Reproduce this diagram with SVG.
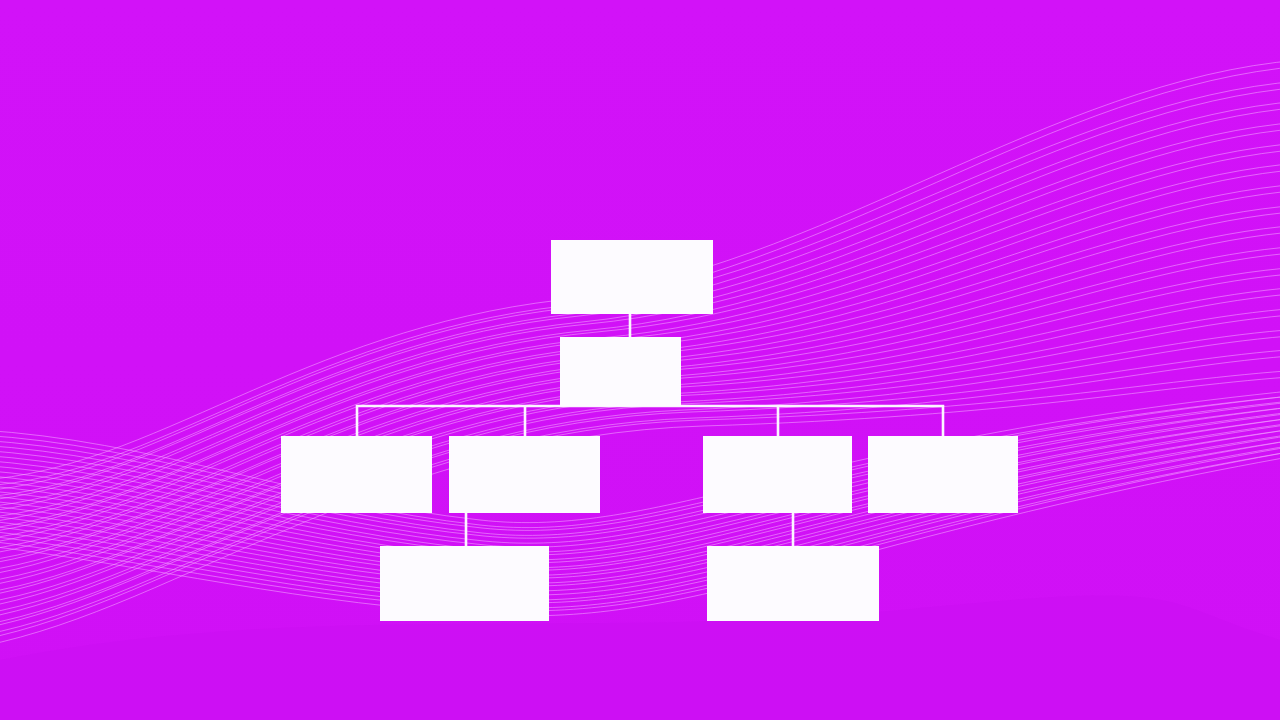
<svg xmlns="http://www.w3.org/2000/svg" xmlns:xlink="http://www.w3.org/1999/xlink" width="1280" height="720" viewBox="0 0 1280 720">
<defs>
<style>
.wave{fill:none;stroke:#F6ACFF;stroke-width:0.9;stroke-opacity:0.6}
.node{fill:#FDFBFF}
.conn{fill:none;stroke:#FBF4FF;stroke-width:2.6}
</style>
<linearGradient id="g" x1="0" y1="0" x2="0" y2="1">
<stop offset="0" stop-color="#D212F8"/>
<stop offset="1" stop-color="#D010F6"/>
</linearGradient>
</defs>
<rect width="1280" height="720" fill="url(#g)"/>
<path d="M0,660 C300,600 600,640 900,610 S1150,600 1280,640 L1280,720 L0,720 Z" fill="#C80CF0" opacity="0.3"/>
<g id="waves" class="wave">
<g id="famA">
<path d="M-20,480 C150,470 300,330 560,300 S1050,80 1300,60"/>
<path d="M-20,491 C152,479 305,337 569,308 S1057,100 1300,81"/>
<path d="M-20,501 C154,487 311,343 579,316 S1063,120 1300,101"/>
<path d="M-20,512 C156,496 316,350 588,324 S1070,140 1300,122"/>
<path d="M-20,523 C158,505 321,357 597,332 S1077,160 1300,143"/>
<path d="M-20,533 C160,513 327,363 607,340 S1083,180 1300,163"/>
<path d="M-20,544 C162,522 332,370 616,348 S1090,200 1300,184"/>
<path d="M-20,555 C164,531 337,377 625,356 S1097,220 1300,205"/>
<path d="M-20,565 C166,539 343,383 635,364 S1103,240 1300,225"/>
<path d="M-20,576 C168,548 348,390 644,372 S1110,260 1300,246"/>
<path d="M-20,587 C170,557 353,397 653,380 S1117,280 1300,267"/>
<path d="M-20,597 C172,565 359,403 663,388 S1123,300 1300,287"/>
<path d="M-20,608 C174,574 364,410 672,396 S1130,320 1300,308"/>
<path d="M-20,619 C176,583 369,417 681,404 S1137,340 1300,329"/>
<path d="M-20,629 C178,591 375,423 691,412 S1143,360 1300,349"/>
<path d="M-20,640 C180,600 380,430 700,420 S1150,380 1300,370"/>
</g>
<use xlink:href="#famA" transform="translate(3,6)"/>
<g id="famB">
<path d="M-20,430 C150,440 300,500 480,520 S800,440 1300,390"/>
<path d="M-20,440 C150,451 300,509 482,528 S805,448 1300,395"/>
<path d="M-20,450 C150,462 300,518 484,536 S809,456 1300,401"/>
<path d="M-20,460 C150,473 300,527 485,545 S814,465 1300,406"/>
<path d="M-20,470 C150,484 300,536 487,553 S818,473 1300,412"/>
<path d="M-20,480 C150,495 300,545 489,561 S823,481 1300,417"/>
<path d="M-20,490 C150,505 300,555 491,569 S827,489 1300,423"/>
<path d="M-20,500 C150,516 300,564 493,577 S832,497 1300,428"/>
<path d="M-20,510 C150,527 300,573 495,585 S836,505 1300,434"/>
<path d="M-20,520 C150,538 300,582 496,594 S841,514 1300,439"/>
<path d="M-20,530 C150,549 300,591 498,602 S845,522 1300,445"/>
<path d="M-20,540 C150,560 300,600 500,610 S850,530 1300,450"/>
</g>
<use xlink:href="#famB" transform="translate(0,5)"/>
</g>
<g id="connectors">
<line class="conn" x1="630" y1="314" x2="630" y2="337"/>
<polyline class="conn" points="357,436 357,406 943,406 943,436"/>
<line class="conn" x1="525" y1="406" x2="525" y2="436"/>
<line class="conn" x1="778" y1="406" x2="778" y2="436"/>
<line class="conn" x1="466" y1="513" x2="466" y2="546"/>
<line class="conn" x1="793" y1="513" x2="793" y2="546"/>
</g>
<g id="node-root"><rect class="node" x="551" y="240" width="162" height="74"/></g>
<g id="node-second"><rect class="node" x="560" y="337" width="121" height="69"/></g>
<g id="node-a"><rect class="node" x="281" y="436" width="151" height="77"/></g>
<g id="node-b"><rect class="node" x="449" y="436" width="151" height="77"/></g>
<g id="node-c"><rect class="node" x="703" y="436" width="149" height="77"/></g>
<g id="node-d"><rect class="node" x="868" y="436" width="150" height="77"/></g>
<g id="node-b1"><rect class="node" x="380" y="546" width="169" height="75"/></g>
<g id="node-c1"><rect class="node" x="707" y="546" width="172" height="75"/></g>
</svg>
